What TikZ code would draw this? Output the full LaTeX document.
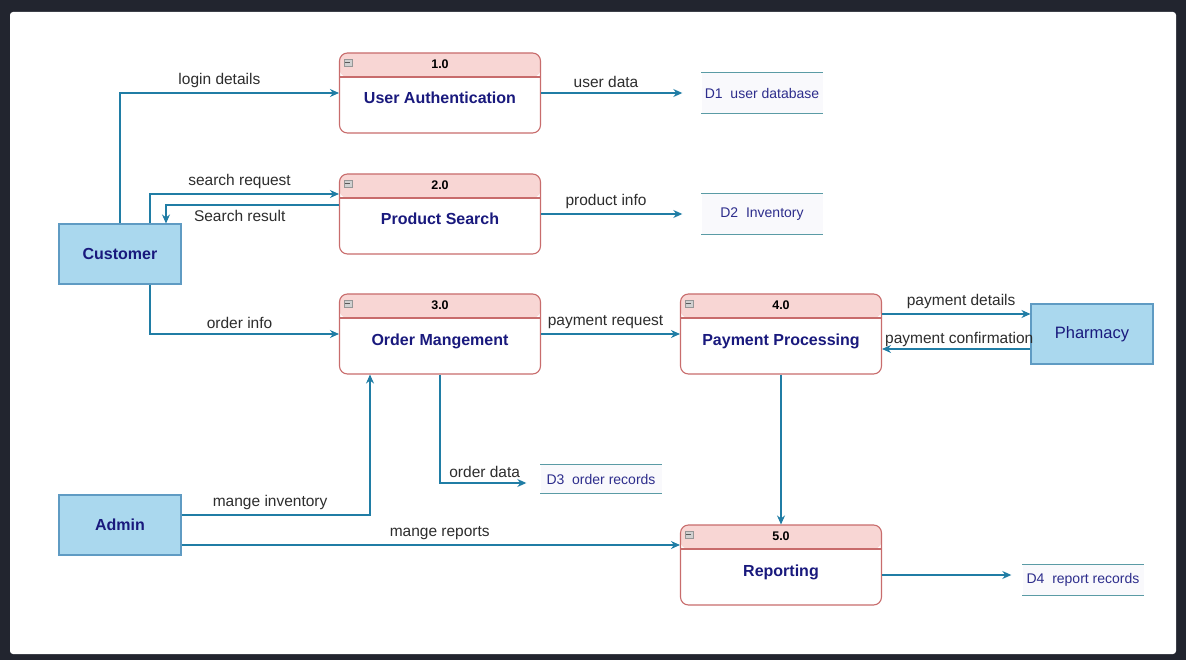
\documentclass[tikz,border=0pt]{standalone}
\usepackage{fontspec}
\setmainfont{Liberation Sans}
\usepackage{tikz}
\usetikzlibrary{arrows.meta, positioning, calc}
\definecolor{mybg}{RGB}{34,37,47}
\definecolor{myflow}{RGB}{32,125,165}
\definecolor{myred}{RGB}{200,108,108}
\definecolor{hdrpink}{RGB}{248,214,212}
\definecolor{mynavy}{RGB}{25,25,125}
\definecolor{entfill}{RGB}{170,216,238}
\definecolor{entdraw}{RGB}{95,155,195}
\definecolor{storeline}{RGB}{90,155,165}
\definecolor{storetext}{RGB}{45,45,140}
\definecolor{storefill}{RGB}{249,249,252}
\definecolor{icongray}{RGB}{150,150,150}
\definecolor{lbltext}{RGB}{45,45,45}
\tikzset{
  proc/.style={rectangle, draw=myred, fill=white, rounded corners=8pt,
    minimum width=201pt, minimum height=80pt, line width=1.1pt,
    font=\bfseries\fontsize{16}{19}\selectfont, text=mynavy,
    text height=25pt, text depth=3pt,
    path picture={
      \fill[hdrpink] (path picture bounding box.north west)
        rectangle ([yshift=-24pt]path picture bounding box.north east);
      \draw[myred, line width=1.1pt] ([yshift=-24pt]path picture bounding box.north west)
        -- ([yshift=-24pt]path picture bounding box.north east);}},
  procnum/.style={font=\bfseries\fontsize{12.5}{14}\selectfont, text=black, inner sep=1pt},
  icon/.style={rectangle, draw=icongray, fill=icongray!45, minimum width=8pt,
    minimum height=7pt, inner sep=0pt, line width=0.5pt,
    path picture={\draw[icongray!60!black, line width=0.8pt]
      ([xshift=1.5pt]path picture bounding box.west) -- ([xshift=-1.5pt]path picture bounding box.east);}},
  entity/.style={rectangle, draw=entdraw, fill=entfill, minimum width=122pt,
    minimum height=60pt, line width=1.1pt,
    font=\bfseries\fontsize{16}{19}\selectfont, text=mynavy},
  store/.style={rectangle, fill=storefill, minimum width=121pt, minimum height=40pt,
    inner sep=1pt, font=\fontsize{14}{17}\selectfont, text=storetext},
  storeedge/.style={storeline, line width=1.1pt},
  flow/.style={-{Stealth[length=9pt,width=8pt]}, myflow, line width=1.1pt},
  flowlbl/.style={font=\fontsize{15.5}{18}\selectfont, text=lbltext, inner sep=5pt}
}
\begin{document}
\begin{tikzpicture}[x=1pt, y=-1pt]
  % frame
  \fill[mybg] (0,0) rectangle (1186,660);
  \fill[white, rounded corners=3pt] (10,12) rectangle (1176,654);

  % processes
  \node[proc] (auth) at (440,93)  {User Authentication};
  \node[proc] (srch) at (440,214) {Product Search};
  \node[proc] (ordr) at (440,334) {Order Mangement};
  \node[proc] (pay)  at (781,334) {Payment Processing};
  \node[proc] (rep)  at (781,565) {Reporting};
  \foreach \p/\n in {auth/1.0, srch/2.0, ordr/3.0, pay/4.0, rep/5.0}{
    \node[icon] (\p-ic) at ([xshift=9pt,yshift=-10pt]\p.north west) {};
    \node[procnum] (\p-num) at ([yshift=-12pt]\p.north) {\n};
  }

  % external entities
  \node[entity] (cust)  at (120,254) {Customer};
  \node[entity] (admin) at (120,525) {Admin};
  \node[entity, font=\fontsize{16.5}{19}\selectfont] (pharm) at (1092,334) {Pharmacy};

  % data stores
  \node[store] (d1) at (762,93)  {D1~~user database};
  \node[store] (d2) at (762,214) {D2~~Inventory};
  \node[store, minimum height=28pt] (d3) at (601,479) {D3~~order records};
  \node[store, minimum height=30pt] (d4) at (1083,580) {D4~~report records};
  \foreach \s in {d1,d2,d3,d4}
    \draw[storeedge] (\s.north west) -- (\s.north east) (\s.south west) -- (\s.south east);

  % customer flows
  \draw[flow] (cust.north) |- node[flowlbl, pos=0.727, above] {login details} (auth.west);
  \draw[flow] ([xshift=30pt]cust.north) |- node[flowlbl, pos=0.737, above] {search request} ([yshift=20pt]srch.west);
  \draw[flow] ([yshift=9pt]srch.west) -| node[flowlbl, pos=0.287, below] {Search result} ([xshift=46pt]cust.north);
  \draw[flow] ([xshift=30pt]cust.south) |- node[flowlbl, pos=0.737, above] {order info} (ordr.west);

  % process to store / process
  \draw[flow] (auth.east) -- node[flowlbl, pos=0.46, above] {user data} ([xshift=-19pt]d1.west);
  \draw[flow] (srch.east) -- node[flowlbl, pos=0.46, above] {product info} ([xshift=-19pt]d2.west);
  \draw[flow] (ordr.east) -- node[flowlbl, pos=0.464, above] {payment request} (pay.west);
  \draw[flow] ([yshift=20pt]pay.east) -- node[flowlbl, pos=0.533, above] {payment details} ([yshift=20pt]pharm.west);
  \draw[flow] ([yshift=-15pt]pharm.west) -- node[flowlbl, pos=0.48, above, inner sep=2pt] {payment confirmation} ([yshift=-15pt]pay.east);
  \draw[flow] (ordr.south) |- node[flowlbl, pos=0.759, above] {order data} ([xshift=-14pt,yshift=-4pt]d3.west);
  \draw[flow] (pay.south) -- (rep.north);
  \draw[flow] ([yshift=-10pt]rep.east) -- ([xshift=-11pt,yshift=5pt]d4.west);

  % admin flows
  \draw[flow] ([yshift=10pt]admin.east) -| node[flowlbl, pos=0.235, above] {mange inventory} ([xshift=-70pt]ordr.south);
  \draw[flow] ([yshift=-20pt]admin.east) -- node[flowlbl, pos=0.518, above] {mange reports} ([yshift=20pt]rep.west);
\end{tikzpicture}
\end{document}
